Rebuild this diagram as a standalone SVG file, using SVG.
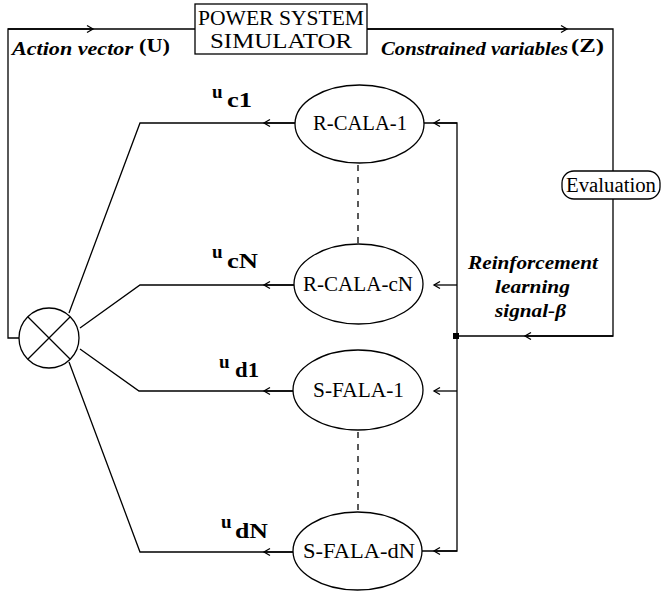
<svg xmlns="http://www.w3.org/2000/svg" width="662" height="595" viewBox="0 0 662 595">
<style>
.ln{fill:none;stroke:#000;stroke-width:1.3}
.sh{fill:#fff;stroke:#000;stroke-width:1.3}
.dash{fill:none;stroke:#000;stroke-width:1.3;stroke-dasharray:6,6}
.t{font-family:"Liberation Serif",serif;fill:#000}
.nd{font-family:"Liberation Serif",serif;font-size:21px;text-anchor:middle;fill:#000}
.it{font-family:"Liberation Serif",serif;font-style:italic;font-weight:bold;font-size:18px;fill:#000}
.p{font-family:"Liberation Serif",serif;font-weight:bold;font-size:18px;fill:#000}
.u{font-family:"Liberation Serif",serif;font-weight:bold;font-size:19px;fill:#000}
.sub{font-family:"Liberation Serif",serif;font-weight:bold;font-size:20px;fill:#000}
</style>
<defs>
<marker id="ar" markerWidth="10" markerHeight="10" refX="7" refY="5" orient="auto" markerUnits="userSpaceOnUse">
<path d="M1,1.5 L7,5 L1,8.5" fill="none" stroke="#000" stroke-width="1.3"/>
</marker>
</defs>
<g id="connectors">
<path class="ln" d="M19,338 H8 V29 H195"/>
<path class="ln" d="M8,29 H93" marker-end="url(#ar)"/>
<path class="ln" d="M367,29 H613 V171"/>
<path class="ln" d="M367,29 H567" marker-end="url(#ar)"/>
<path class="ln" d="M613,199 V336 H456"/>
<path class="ln" d="M613,336 H525" marker-end="url(#ar)"/>
<rect x="453" y="333" width="6" height="6" fill="#000"/>
<path class="ln" d="M423,123 H457 V551 H422"/>
<path class="ln" d="M457,123 H434" marker-end="url(#ar)"/>
<path class="ln" d="M457,285 H434" marker-end="url(#ar)"/>
<path class="ln" d="M457,391 H434" marker-end="url(#ar)"/>
<path class="ln" d="M457,551 H434" marker-end="url(#ar)"/>
<path class="ln" d="M295,123 H140 L69,313"/>
<path class="ln" d="M295,123 H264" marker-end="url(#ar)"/>
<path class="ln" d="M294,285 H140 L80,328"/>
<path class="ln" d="M294,285 H264" marker-end="url(#ar)"/>
<path class="ln" d="M293,391 H139 L80,349"/>
<path class="ln" d="M293,391 H264" marker-end="url(#ar)"/>
<path class="ln" d="M293,552 H140 L69,362"/>
<path class="ln" d="M293,552 H264" marker-end="url(#ar)"/>
<path class="dash" d="M358,165 V243"/>
<path class="dash" d="M358,432 V512"/>
</g>
<g id="simulator">
<rect class="sh" x="195" y="4" width="172" height="50"/>
<text class="t" x="281" y="25" font-size="20" text-anchor="middle" textLength="166" lengthAdjust="spacingAndGlyphs">POWER SYSTEM</text>
<text class="t" x="281" y="48" font-size="20" text-anchor="middle" textLength="142" lengthAdjust="spacingAndGlyphs">SIMULATOR</text>
</g>
<g id="mixer">
<circle class="sh" cx="49" cy="338" r="30"/>
<path class="ln" d="M28,317 L70,359 M70,317 L28,359"/>
</g>
<g id="evaluation">
<rect class="sh" x="562" y="171" width="98" height="28" rx="12"/>
<text class="t" x="611" y="192" font-size="20" text-anchor="middle" textLength="90" lengthAdjust="spacingAndGlyphs">Evaluation</text>
</g>
<g id="rcala1">
<ellipse class="sh" cx="359.5" cy="124" rx="64.5" ry="39"/>
<text class="nd" x="360" y="130" textLength="94" lengthAdjust="spacingAndGlyphs">R-CALA-1</text>
</g>
<g id="rcalacn">
<ellipse class="sh" cx="358.5" cy="284" rx="64.5" ry="40"/>
<text class="nd" x="358" y="291" textLength="110" lengthAdjust="spacingAndGlyphs">R-CALA-cN</text>
</g>
<g id="sfala1">
<ellipse class="sh" cx="358" cy="390" rx="65" ry="40"/>
<text class="nd" x="358.5" y="397" textLength="91" lengthAdjust="spacingAndGlyphs">S-FALA-1</text>
</g>
<g id="sfaladn">
<ellipse class="sh" cx="357.5" cy="551" rx="64.5" ry="39"/>
<text class="nd" x="359" y="558" textLength="112" lengthAdjust="spacingAndGlyphs">S-FALA-dN</text>
</g>
<g id="labels">
<text class="it" x="12" y="55" textLength="121" lengthAdjust="spacingAndGlyphs">Action vector</text>
<text class="p" x="139" y="52" textLength="31" lengthAdjust="spacingAndGlyphs">(U)</text>
<text class="it" x="381" y="55" textLength="187" lengthAdjust="spacingAndGlyphs">Constrained variables</text>
<text class="p" x="571" y="52" textLength="33" lengthAdjust="spacingAndGlyphs">(Z)</text>
<text class="it" x="533" y="269" text-anchor="middle" textLength="130" lengthAdjust="spacingAndGlyphs">Reinforcement</text>
<text class="it" x="532.5" y="293" text-anchor="middle" textLength="75" lengthAdjust="spacingAndGlyphs">learning</text>
<text class="it" x="530.5" y="317" text-anchor="middle" textLength="71" lengthAdjust="spacingAndGlyphs">signal-β</text>
<text class="u" x="212" y="98">u</text><text class="sub" x="227" y="107" textLength="25" lengthAdjust="spacingAndGlyphs">c1</text>
<text class="u" x="212" y="258">u</text><text class="sub" x="227" y="268" textLength="31" lengthAdjust="spacingAndGlyphs">cN</text>
<text class="u" x="219" y="368">u</text><text class="sub" x="235" y="377" textLength="24" lengthAdjust="spacingAndGlyphs">d1</text>
<text class="u" x="221" y="528">u</text><text class="sub" x="235" y="538" textLength="33" lengthAdjust="spacingAndGlyphs">dN</text>
</g>
</svg>
